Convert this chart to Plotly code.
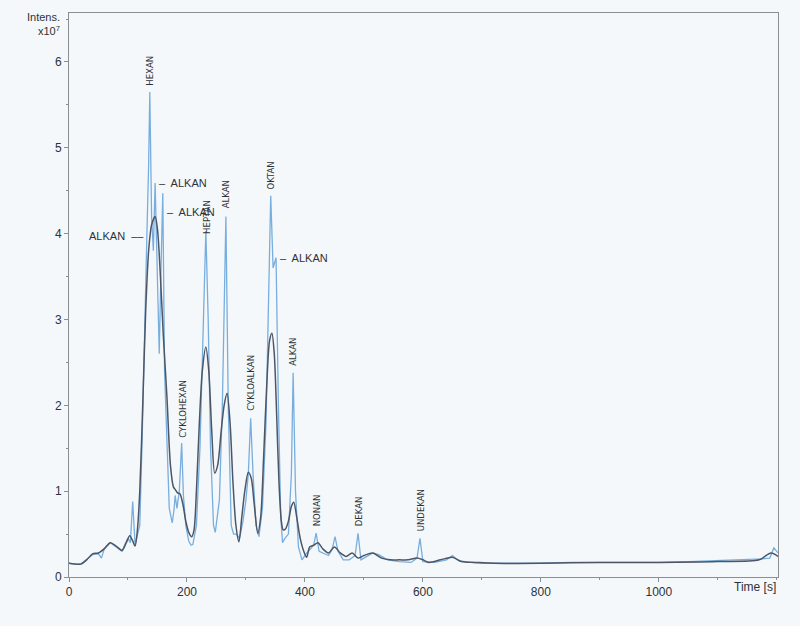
import plotly.graph_objects as go

# ---- data (intensity in units of 1e7) ----
t_sharp = [0, 10, 20, 30, 40, 50, 55, 60, 70, 80, 90, 95, 100, 104, 108, 112, 116, 120,
           124, 128, 132, 135, 137, 140, 143, 146, 149, 153, 156, 159, 162, 166, 170, 175,
           178, 180, 183, 187, 191, 194, 198, 203, 207, 210, 216, 222, 228, 232, 236, 240,
           245, 248, 255, 260, 266, 270, 275, 279, 284, 289, 295, 300, 304, 308, 312, 317,
           322, 328, 334, 339, 342, 346, 351, 355, 359, 362, 366, 372, 377, 380, 384, 389,
           395, 403, 410, 415, 419, 424, 432, 440, 446, 451, 456, 465, 475, 485, 490, 495,
           505, 515, 525, 540, 560, 580, 590, 595, 600, 620, 640, 650, 660, 680, 700, 750,
           800, 850, 900, 950, 1000, 1050, 1100, 1150, 1175, 1188, 1195, 1202]
i_sharp = [0.16, 0.15, 0.15, 0.2, 0.26, 0.27, 0.22, 0.33, 0.4, 0.35, 0.3, 0.38, 0.45, 0.4, 0.88,
           0.38, 0.5, 0.6, 1.6, 3.0, 3.97, 4.8, 5.65, 4.2, 3.8, 4.59, 3.6, 2.6, 3.6, 4.47, 2.4,
           1.5, 0.8, 0.63, 0.78, 0.95, 0.8, 1.0, 1.56, 0.95, 0.6, 0.42, 0.37, 0.38, 0.6, 1.5,
           3.0, 4.03, 3.0, 1.5, 0.6, 0.52, 0.9, 2.0, 4.2, 2.0, 0.6, 0.5, 0.5, 0.45, 0.65, 0.9,
           1.2, 1.85, 1.2, 0.6, 0.47, 0.8, 1.8, 3.5, 4.44, 3.6, 3.72, 2.0, 0.7, 0.4, 0.45, 0.5,
           1.2, 2.38, 1.0, 0.35, 0.2, 0.28, 0.33, 0.38, 0.51, 0.3, 0.27, 0.25, 0.32, 0.47, 0.3,
           0.2, 0.2, 0.25, 0.51, 0.2, 0.24, 0.28, 0.26, 0.2, 0.18, 0.17, 0.22, 0.45, 0.18, 0.17,
           0.2, 0.25, 0.19, 0.17, 0.16, 0.16, 0.16, 0.17, 0.17, 0.17, 0.17, 0.18, 0.19, 0.2,
           0.21, 0.22, 0.34, 0.28, 0.26]

t_smooth = [0, 20, 30, 40, 50, 60, 70, 80, 90, 97, 103, 108, 112, 116, 120, 125, 130, 135,
            140, 146, 150, 155, 160, 166, 172, 177, 180, 184, 188, 193, 198, 203, 208, 212,
            216, 221, 226, 232, 237, 242, 247, 252, 258, 263, 268, 273, 278, 283, 288, 293,
            298, 304, 309, 314, 320, 325, 330, 335, 340, 344, 348, 352, 356, 360, 363, 367,
            372, 377, 381, 386, 392, 398, 403, 408, 415, 422, 430, 440, 450, 460, 470, 480,
            490, 500, 515, 530, 545, 560, 575, 590, 600, 610, 630, 650, 665, 690, 720, 800,
            900, 1000, 1100, 1170, 1190, 1202]
i_smooth = [0.16, 0.15, 0.2, 0.27, 0.28, 0.33, 0.4, 0.36, 0.31, 0.4, 0.48, 0.42, 0.36, 0.55,
            1.0, 2.0, 3.1, 3.8, 4.1, 4.2, 4.05, 3.5, 2.8, 2.1, 1.3, 1.05, 1.02, 0.98, 0.97,
            0.85, 0.65, 0.52, 0.47, 0.55, 1.0, 1.8, 2.4, 2.68, 2.4, 1.7, 1.21, 1.3, 1.7, 2.0,
            2.14, 1.8, 1.1, 0.6, 0.41, 0.7, 1.0, 1.22, 1.15, 0.85, 0.51, 0.7, 1.4, 2.2, 2.75,
            2.84, 2.6, 1.9, 1.1, 0.65, 0.55, 0.56, 0.65, 0.82, 0.87, 0.7, 0.45, 0.3, 0.23,
            0.35, 0.37, 0.4, 0.33, 0.28, 0.35, 0.28, 0.24, 0.28, 0.22, 0.25, 0.28, 0.22, 0.2,
            0.2, 0.2, 0.22, 0.2, 0.17, 0.2, 0.23, 0.18, 0.17, 0.16, 0.16, 0.17, 0.17, 0.18,
            0.2, 0.28, 0.24]

# vertical peak labels
vlabels = ["HEXAN", "CYKLOHEXAN", "HEPTAN", "ALKAN", "CYKLOALKAN", "OKTAN", "ALKAN",
           "NONAN", "DEKAN", "UNDEKAN"]
vlabel_t = [137, 191, 232, 266, 308, 342, 380, 419, 490, 595]
vlabel_i = [5.65, 1.56, 4.03, 4.2, 1.85, 4.44, 2.38, 0.51, 0.51, 0.45]
vlabel_shift = [4, 3, -5, 6, 5, 4, 5, 5, 5, 5]

# horizontal peak labels (side: +1 right, -1 left)
hlabels = ["ALKAN", "ALKAN", "ALKAN", "ALKAN"]
hlabel_t = [146, 159, 132, 351]
hlabel_i = [4.59, 4.25, 3.97, 3.72]
hlabel_side = [1, 1, -1, 1]

x_ticks = [0, 200, 400, 600, 800, 1000]
y_ticks = [0, 1, 2, 3, 4, 5, 6]

LIGHT = "#78aede"
DARK = "#4d5666"
BG = "#f5f8fa"
TXT = "#2e3238"
SANS = "Liberation Sans, Arial, sans-serif"
COND = "DejaVu Sans Condensed, Liberation Sans, sans-serif"

fig = go.Figure()
fig.add_trace(go.Scatter(x=t_sharp, y=i_sharp, mode="lines",
                         line=dict(color=LIGHT, width=1.3), showlegend=False))
fig.add_trace(go.Scatter(x=t_smooth, y=i_smooth, mode="lines",
                         line=dict(color=DARK, width=1.5, shape="spline", smoothing=0.8),
                         showlegend=False))

for name, t, v, s in zip(vlabels, vlabel_t, vlabel_i, vlabel_shift):
    fig.add_annotation(x=t, y=v, text=name, textangle=-90, showarrow=False,
                       xanchor="center", yanchor="bottom", yshift=s,
                       font=dict(family=COND, size=9.5, color=TXT))

for name, t, v, side in zip(hlabels, hlabel_t, hlabel_i, hlabel_side):
    if side > 0:
        txt = "\u2013  " + name
        xa = "left"
        xs = 2
    else:
        txt = name + "  \u2013\u2013"
        xa = "right"
        xs = -1
    fig.add_annotation(x=t, y=v, text=txt, showarrow=False, xanchor=xa, yanchor="middle",
                       xshift=xs, font=dict(family=SANS, size=11, color=TXT))

fig.add_annotation(xref="paper", yref="paper", x=0, y=1, xanchor="right", yanchor="top",
                   xshift=-7, yshift=4, align="right", showarrow=False,
                   text="Intens.<br>x10<sup>7</sup>",
                   font=dict(family=SANS, size=11, color=TXT))
fig.add_annotation(xref="paper", yref="paper", x=1, y=0, xanchor="right", yanchor="top",
                   yshift=-1, showarrow=False, text="Time [s]",
                   font=dict(family=SANS, size=12, color=TXT))

axis_common = dict(showline=True, linecolor="#8a8f96", linewidth=1, mirror=True,
                   showgrid=False, zeroline=False, ticks="outside", ticklen=4,
                   tickcolor="#8a8f96",
                   tickfont=dict(family=SANS, size=12, color=TXT))
fig.update_xaxes(range=[0, 1202], tickvals=x_ticks, ticktext=[str(v) for v in x_ticks],
                 minor=dict(dtick=100, ticks="outside", ticklen=2, tickcolor="#8a8f96"),
                 **axis_common)
fig.update_yaxes(range=[0, 6.57], tickvals=y_ticks, ticktext=[str(v) for v in y_ticks],
                 minor=dict(dtick=0.5, ticks="outside", ticklen=2, tickcolor="#8a8f96"),
                 **axis_common)

fig.update_layout(width=800, height=626, margin=dict(l=69, r=22, t=13, b=49),
                  paper_bgcolor=BG, plot_bgcolor=BG, showlegend=False)

fig.write_html("out.html", config={"displayModeBar": False},
               post_script="document.body.style.margin='0';"
                           "document.body.style.background='%s';"
                           "document.body.style.overflow='hidden';" % BG)
